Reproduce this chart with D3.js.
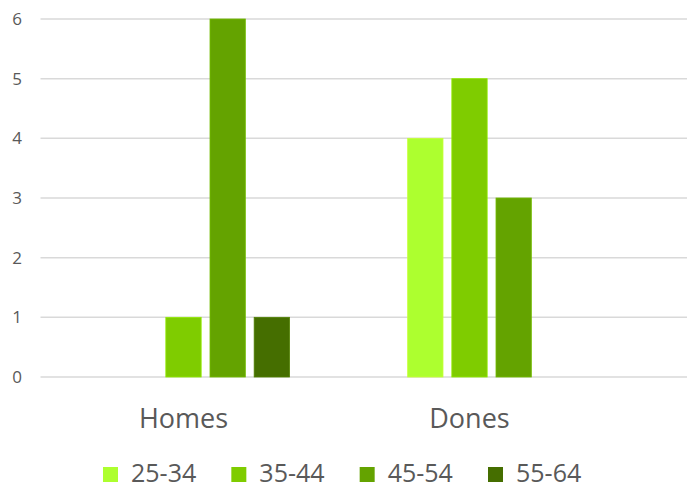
<!DOCTYPE html>
<html>
<head>
<meta charset="utf-8">
<script src="https://cdn.jsdelivr.net/npm/d3@7"></script>
<style>
  body { margin: 0; background: #fff; }
  svg { display: block; font-family: "Open Sans", sans-serif; }
</style>
</head>
<body>
<svg id="chart" width="687" height="491"></svg>
<script>
const categories = ['Homes', 'Dones'];
const seriesNames = ['25-34', '35-44', '45-54', '55-64'];
const seriesColors = ['#adff2f', '#7fcc00', '#64a300', '#456e00'];
// values per series, in category order
const values = {
  '25-34': [0, 4],
  '35-44': [1, 5],
  '45-54': [6, 3],
  '55-64': [1, 0]
};
const yTicks = [0, 1, 2, 3, 4, 5, 6];

const W = 687, H = 491;
const svg = d3.select('svg#chart');

const y = d3.scaleLinear().domain([0, 6]).range([377, 19]);
const x0 = d3.scaleBand().domain(categories).range([40.5, 612.5]);
// the original leaves an empty slot in front of the first series
const slots = ['_empty'].concat(seriesNames);
const x1 = d3.scaleBand().domain(slots).range([37, x0.bandwidth() - 37]).paddingInner(0.2);

// gridlines
svg.append('g')
  .selectAll('line')
  .data(yTicks)
  .join('line')
  .attr('x1', 40.5)
  .attr('x2', W)
  .attr('y1', d => y(d))
  .attr('y2', d => y(d))
  .attr('stroke', '#d9d9d9')
  .attr('stroke-width', 1.5);

// y labels
svg.append('g')
  .selectAll('text')
  .data(yTicks)
  .join('text')
  .attr('x', 22)
  .attr('y', d => y(d))
  .attr('dy', '0.35em')
  .attr('text-anchor', 'end')
  .attr('font-size', 17)
  .attr('fill', '#595959')
  .text(d => d);

// bars
const bars = [];
seriesNames.forEach((s, i) => {
  categories.forEach((c, j) => {
    if (values[s][j] > 0) bars.push({cat: c, series: s, value: values[s][j], color: seriesColors[i]});
  });
});

svg.append('g')
  .selectAll('rect')
  .data(bars)
  .join('rect')
  .attr('x', d => x0(d.cat) + x1(d.series))
  .attr('y', d => y(d.value))
  .attr('width', x1.bandwidth())
  .attr('height', d => y(0) - y(d.value))
  .attr('fill', d => d.color)
  .attr('stroke', d => d3.color(d.color).brighter(0.4))
  .attr('stroke-width', 0.8);

// category labels
svg.append('g')
  .selectAll('text')
  .data(categories)
  .join('text')
  .attr('x', d => x0(d) + x0.bandwidth() / 2)
  .attr('y', 428)
  .attr('text-anchor', 'middle')
  .attr('font-size', 27)
  .attr('fill', '#595959')
  .text(d => d);

// legend
const legendX = d3.scalePoint().domain(seriesNames).range([103, 488]);
const legend = svg.append('g')
  .selectAll('g')
  .data(seriesNames)
  .join('g')
  .attr('transform', d => `translate(${legendX(d)},0)`);

legend.append('rect')
  .attr('x', 0)
  .attr('y', 467)
  .attr('width', 15)
  .attr('height', 15)
  .attr('fill', (d, i) => seriesColors[i]);

legend.append('text')
  .attr('x', 28)
  .attr('y', 482)
  .attr('font-size', 25)
  .attr('fill', '#595959')
  .text(d => d);
</script>
</body>
</html>
